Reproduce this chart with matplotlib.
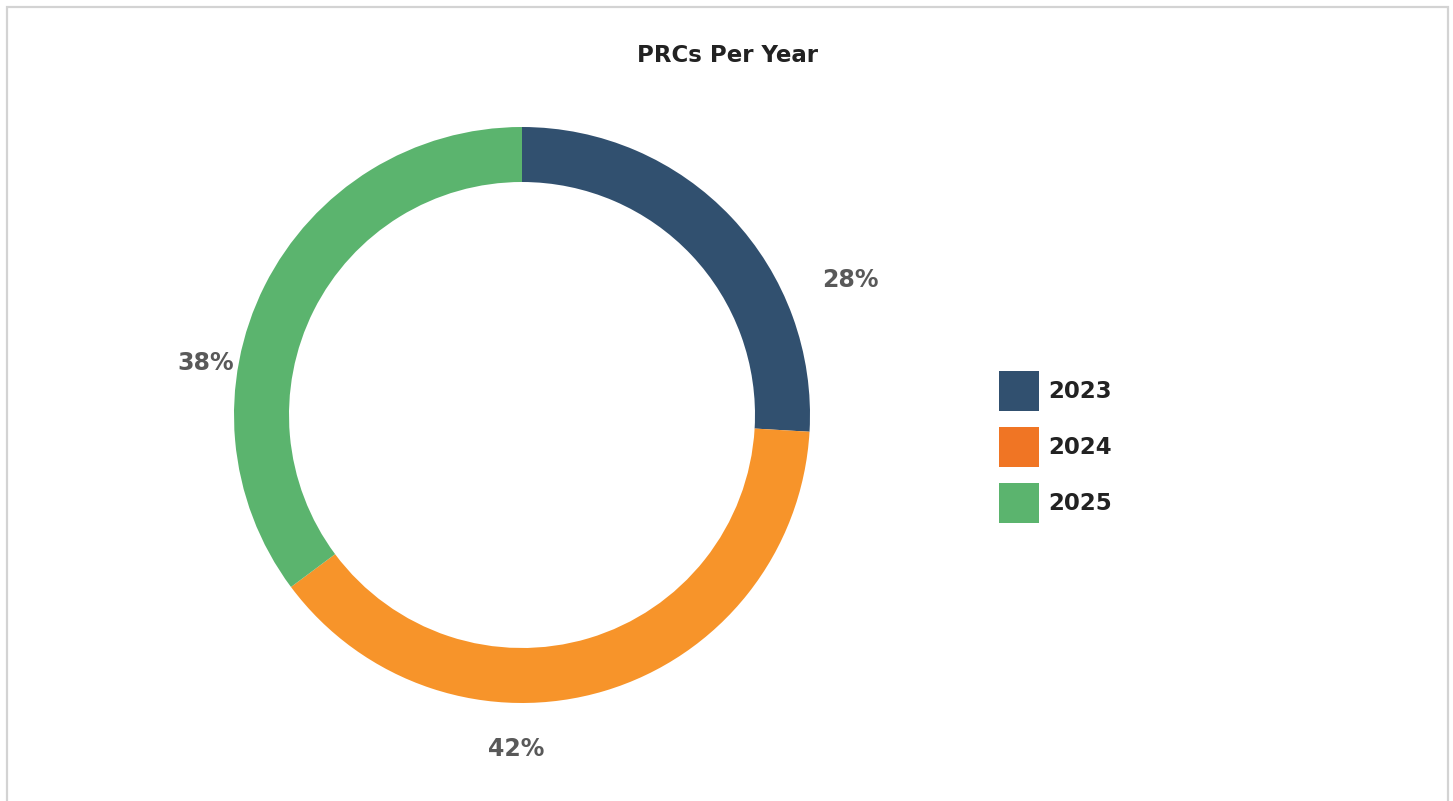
import matplotlib.pyplot as plt
from matplotlib.patches import Patch, Rectangle

# PRC share per year
years = ["2023", "2024", "2025"]
shares = [28, 42, 38]
wedge_colors = ["#31506F", "#F7942A", "#5BB46E"]
legend_colors = ["#31506F", "#F07524", "#5BB46E"]

# where the percentage labels sit (data coords, ring radius = 1)
label_pos = [(1.14, 0.47), (-0.02, -1.16), (-1.10, 0.18)]

fig = plt.figure(figsize=(14.53, 8.01), dpi=100)
fig.patch.set_facecolor("white")

# light frame round the card
fig.patches.append(Rectangle((7 / 1453, -0.02), 1441 / 1453, 1 - 7 / 801 + 0.02,
                             transform=fig.transFigure, fill=False,
                             edgecolor="#D3D3D3", linewidth=1.6))

fig.text(0.501, 1 - 55 / 801, "PRCs Per Year", ha="center", va="center",
         fontsize=16.5, fontweight="bold", color="#222222")

ax = fig.add_axes([(522 - 288) / 1453, (801 - 415 - 288) / 801, 576 / 1453, 576 / 801])
wedges, _ = ax.pie(shares, colors=wedge_colors, startangle=90, counterclock=False,
                   radius=1, wedgeprops=dict(width=55 / 288, linewidth=0))
ax.set_xlim(-1, 1)
ax.set_ylim(-1, 1)
ax.set_aspect("equal")
ax.axis("off")

for v, (x, y) in zip(shares, label_pos):
    ax.text(x, y, f"{v}%", ha="center", va="center", fontsize=17,
            fontweight="bold", color="#595959")

handles = [Patch(facecolor=c, edgecolor="none") for c in legend_colors]
leg = fig.legend(handles, years, loc="center left", bbox_to_anchor=(999 / 1453, 1 - 447 / 801),
                 frameon=False, borderpad=0, borderaxespad=0,
                 handlelength=1.75, handleheight=2.3,
                 handletextpad=0.42, labelspacing=0.7,
                 prop=dict(size=16.5, weight="bold"))
for t in leg.get_texts():
    t.set_color("#222222")

fig.savefig("out.png", dpi=100)
